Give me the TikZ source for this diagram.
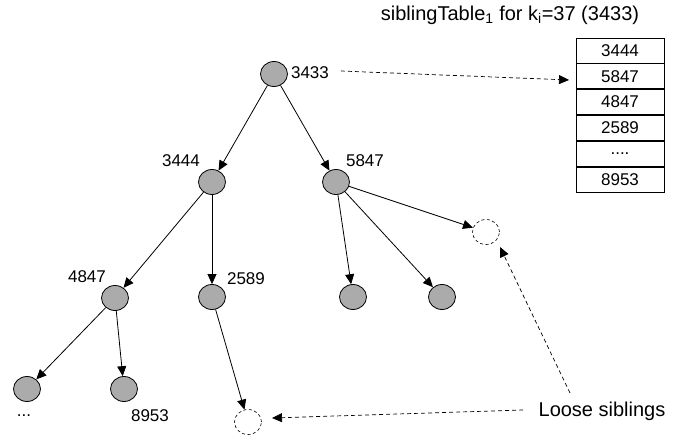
\documentclass[tikz,border=0pt]{standalone}
\usepackage{fontspec}
\setmainfont{Liberation Sans}
\usetikzlibrary{arrows.meta,shapes.geometric}
\begin{document}
\begin{tikzpicture}[x=1pt,y=-1pt,
  tnode/.style={ellipse,draw=black,line width=0.8pt,fill=gray!80!black!55,minimum width=27pt,minimum height=25pt,inner sep=0pt},
  loosenode/.style={ellipse,draw=black,line width=0.6pt,dash pattern=on 3pt off 2.5pt,minimum width=27pt,minimum height=25pt,inner sep=0pt},
  lbl/.style={inner sep=0pt,font=\fontsize{17}{20}\selectfont},
  big/.style={inner sep=0pt,font=\fontsize{20}{24}\selectfont},
  edge/.style={draw,line width=0.8pt,-{Triangle[length=10pt,width=9pt]}},
  dedge/.style={draw,line width=0.7pt,dash pattern=on 4pt off 3pt,-{Triangle[length=10pt,width=9pt]}},
  cell/.style={draw=black,line width=0.8pt,minimum width=88pt,minimum height=25pt,inner sep=0pt,font=\fontsize{17}{20}\selectfont}
]
\useasboundingbox (0,0) rectangle (683,438);
\fill[white] (0,0) rectangle (683,438);

% tree nodes
\node[tnode] (r) at (274,74) {};
\node[tnode] (a) at (212,182) {};
\node[tnode] (b) at (336,182) {};
\node[loosenode] (lb) at (486,232) {};
\node[tnode] (c) at (115,298) {};
\node[tnode] (d) at (212,297) {};
\node[tnode] (e) at (353,297) {};
\node[tnode] (f) at (442,297) {};
\node[tnode] (g) at (27,389) {};
\node[tnode] (h) at (124,389) {};
\node[loosenode] (ld) at (248,422) {};

% labels
\node[lbl] (lr) at (310,73) {3433};
\node[lbl] (la) at (181,161) {3444};
\node[lbl] (lbb) at (365,161) {5847};
\node[lbl] (lc) at (87,277) {4847};
\node[lbl] (ld2) at (246,279) {2589};
\node[lbl] (lh) at (150,416) {8953};
\node[lbl] (lg) at (24,416) {...};
\node[big] (loose) at (602,411) {Loose siblings};
\node[big] (title) at (510,15) {siblingTable\textsubscript{1} for k\textsubscript{i}=37 (3433)};

% table
\node[cell] (t1) at (620,50.5) {3444};
\node[cell,anchor=north] (t2) at (t1.south) {5847};
\node[cell,anchor=north] (t3) at (t2.south) {4847};
\node[cell,anchor=north] (t4) at (t3.south) {2589};
\node[cell,anchor=north] (t5) at (t4.south) {....};
\node[cell,anchor=north] (t6) at (t5.south) {8953};

% edges
\draw[edge] (r) -- (a);
\draw[edge] (r) -- (b);
\draw[edge] (a) -- (c);
\draw[edge] (a) -- (d);
\draw[edge] (b) -- (e);
\draw[edge] (b) -- (f);
\draw[edge] (b) -- (lb);
\draw[edge] (c) -- (g);
\draw[edge] (c) -- (h);
\draw[edge] (d) -- (ld);

% dashed pointers
\coordinate (p0) at (341,71);
\coordinate (p1) at (569,80);
\draw[dedge] (p0) -- (p1);
\coordinate (q0) at (523,410);
\coordinate (q1) at (272,418);
\draw[dedge] (q0) -- (q1);
\coordinate (s0) at (570,393);
\coordinate (s1) at (500,247);
\draw[dedge] (s0) -- (s1);
\end{tikzpicture}
\end{document}
